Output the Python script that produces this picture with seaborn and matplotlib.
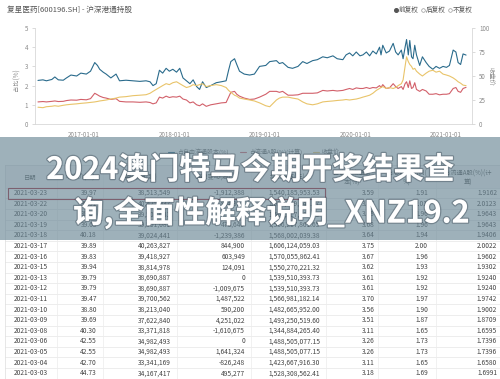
import matplotlib
matplotlib.use("Agg")
import numpy as np
import pandas as pd
import seaborn as sns
import matplotlib.pyplot as plt
import matplotlib.dates as mdates
import matplotlib.patheffects as pe
from matplotlib.patches import Rectangle

# ---------------- chart data ----------------
dates = [
    "2016-06-30", "2016-07-20", "2016-08-03", "2016-08-25", "2016-09-06", "2016-09-20", "2016-10-10", "2016-10-23", "2016-11-10", "2016-12-03",
    "2016-12-20", "2017-01-11", "2017-01-28", "2017-02-14", "2017-02-25", "2017-03-06", "2017-03-20", "2017-04-01", "2017-04-20", "2017-05-11",
    "2017-05-25", "2017-06-20", "2017-07-18", "2017-08-15", "2017-09-09", "2017-09-25", "2017-10-07", "2017-10-20", "2017-11-02", "2017-11-15",
    "2017-11-29", "2017-12-12", "2017-12-26", "2018-01-10", "2018-01-23", "2018-02-05", "2018-02-19", "2018-03-05", "2018-03-18", "2018-04-01",
    "2018-04-13", "2018-04-25", "2018-05-10", "2018-05-28", "2018-06-19", "2018-07-10", "2018-07-29", "2018-08-08", "2018-08-17", "2018-09-01",
    "2018-09-10", "2018-09-21", "2018-10-10", "2018-11-01", "2018-11-20", "2018-12-11", "2019-01-05", "2019-01-21", "2019-02-17", "2019-03-01",
    "2019-03-14", "2019-04-05", "2019-04-23", "2019-05-15", "2019-06-03", "2019-06-20", "2019-07-13", "2019-08-01", "2019-08-23", "2019-09-10",
    "2019-10-03", "2019-10-20", "2019-11-12", "2019-11-25", "2019-12-09", "2019-12-22", "2020-01-05", "2020-01-20", "2020-02-01", "2020-02-15",
    "2020-02-28", "2020-03-12", "2020-03-26", "2020-04-08", "2020-04-14", "2020-04-21", "2020-05-05", "2020-05-18", "2020-06-02", "2020-06-12",
    "2020-06-22", "2020-07-05", "2020-07-12", "2020-07-20", "2020-07-26", "2020-08-02", "2020-08-08", "2020-08-15", "2020-08-21", "2020-08-28",
    "2020-09-04", "2020-09-17", "2020-09-28", "2020-10-13", "2020-10-25", "2020-11-09", "2020-11-22", "2020-12-06", "2020-12-20", "2021-01-03",
    "2021-01-15", "2021-01-30", "2021-02-10", "2021-02-19", "2021-03-01", "2021-03-11", "2021-03-23",
]
free_float_pct = [
    2.27, 2.30, 2.25, 2.32, 2.45, 2.30, 2.28, 2.40, 2.55, 2.50,
    2.65, 2.60, 2.75, 3.20, 3.05, 2.85, 2.70, 2.60, 2.40, 2.60,
    2.25, 2.28, 2.25, 2.22, 2.25, 2.20, 2.00, 2.10, 2.80, 2.65,
    2.90, 2.75, 2.85, 2.70, 2.90, 2.40, 2.25, 2.10, 2.30, 1.95,
    1.80, 2.20, 1.90, 2.00, 2.15, 2.20, 2.25, 2.80, 3.25, 3.40,
    3.10, 2.75, 2.60, 2.55, 2.60, 3.00, 3.05, 3.25, 3.30, 3.15,
    3.20, 2.95, 2.90, 3.00, 3.25, 3.15, 3.30, 3.35, 3.50, 3.45,
    3.55, 3.40, 3.35, 3.60, 3.70, 3.55, 3.75, 3.55, 3.60, 3.75,
    3.55, 3.80, 3.65, 4.00, 3.60, 4.10, 3.70, 3.80, 4.20, 3.75,
    3.60, 3.85, 3.40, 4.00, 4.40, 3.60, 4.35, 3.50, 3.40, 4.10,
    3.60, 3.05, 3.50, 3.20, 3.00, 2.85, 3.00, 2.90, 3.00, 2.95,
    3.05, 3.85, 3.75, 3.20, 3.10, 3.65, 3.59,
]
a_share_pct = [
    1.15, 1.17, 1.15, 1.18, 1.20, 1.17, 1.18, 1.22, 1.25, 1.24,
    1.28, 1.26, 1.32, 1.60, 1.52, 1.45, 1.38, 1.35, 1.28, 1.32,
    1.18, 1.15, 1.15, 1.13, 1.15, 1.12, 1.05, 1.10, 1.40, 1.35,
    1.45, 1.38, 1.42, 1.40, 1.45, 1.30, 1.25, 1.10, 1.15, 1.00,
    0.95, 1.05, 0.92, 1.00, 1.05, 1.10, 1.12, 1.40, 1.65, 1.70,
    1.55, 1.45, 1.35, 1.28, 1.30, 1.40, 1.55, 1.70, 1.70, 1.65,
    1.70, 1.50, 1.50, 1.52, 1.60, 1.60, 1.60, 1.62, 1.75, 1.72,
    1.75, 1.72, 1.75, 1.80, 1.85, 1.80, 1.88, 1.85, 1.85, 1.90,
    1.85, 1.90, 1.88, 2.00, 1.90, 2.05, 1.85, 1.88, 2.10, 1.95,
    1.85, 1.95, 1.80, 2.10, 2.20, 1.90, 2.25, 1.85, 1.90, 2.15,
    1.80, 1.70, 1.80, 1.72, 1.55, 1.55, 1.58, 1.52, 1.55, 1.55,
    1.58, 1.85, 1.90, 1.70, 1.65, 1.85, 1.91,
]
close_price = [
    17.5, 17.0, 18.0, 18.5, 19.0, 18.5, 19.5, 20.0, 20.5, 21.0,
    21.5, 22.0, 22.5, 23.0, 23.5, 24.0, 24.5, 25.0, 26.0, 27.0,
    28.0, 28.5, 29.5, 30.0, 30.5, 32.0, 34.0, 36.0, 38.0, 40.0,
    42.0, 41.0, 43.0, 44.0, 42.0, 40.0, 38.0, 39.0, 41.0, 40.0,
    41.0, 42.0, 39.0, 40.0, 41.0, 40.0, 38.0, 35.0, 33.0, 30.0,
    29.0, 27.0, 26.0, 25.0, 24.0, 22.0, 19.0, 18.0, 25.0, 27.0,
    28.0, 28.0, 27.0, 26.0, 23.0, 21.0, 20.0, 21.0, 23.0, 23.5,
    24.0, 24.5, 25.0, 25.5, 25.0, 25.5, 26.0, 27.0, 28.0, 29.0,
    30.0, 32.0, 35.0, 37.0, 38.0, 39.0, 37.0, 38.0, 37.0, 38.0,
    40.0, 42.0, 46.0, 60.0, 70.0, 65.0, 62.0, 60.0, 57.0, 58.0,
    55.0, 52.0, 50.0, 53.0, 55.0, 56.0, 54.0, 55.0, 52.0, 51.0,
    50.0, 48.0, 46.0, 44.0, 42.5, 40.5, 39.97,
]
x_ticks = ["2017-01-01", "2018-01-01", "2019-01-01", "2020-01-01", "2021-01-01"]
left_ticks = [0, 1, 2, 3, 4, 5]
right_ticks = [0, 25, 50, 75, 100]

# ---------------- table data ----------------
tbl_headers = ["日期", "收盘价(元)", "持股数量(股)", "持股变动(股)", "持股市值(元)",
               "占自由流通股\n本(%)", "占总股本比例(\n%)", "占流通A股(%)(计\n算)"]
tbl_dates = ["2021-03-23", "2021-03-22", "2021-03-20", "2021-03-19", "2021-03-18", "2021-03-17",
             "2021-03-16", "2021-03-15", "2021-03-13", "2021-03-12", "2021-03-11", "2021-03-10",
             "2021-03-09", "2021-03-08", "2021-03-06", "2021-03-05", "2021-03-04", "2021-03-03"]
tbl_close = [39.97, 39.91, 39.65, 39.65, 40.18, 39.89, 39.83, 39.94, 39.79, 39.79, 39.47, 38.80,
             39.69, 40.30, 42.55, 42.55, 42.70, 44.73]
tbl_shares = [38513549, 40425937, 39501081, 39501081, 39024441, 40263827, 39418927, 38814978,
              38690887, 38690887, 39700562, 38213040, 37622840, 33371818, 34982493, 34982493,
              33341169, 34167417]
tbl_change = [-1912388, 924856, 0, 476640, -1239386, 844900, 603949, 124091, 0, -1009675,
              1487522, 590200, 4251022, -1610675, 0, 1641324, -826248, 495277]
tbl_value = [1540185953.53, 1613399145.67, 1566217861.65, 1566217861.65, 1568002039.38,
             1606124059.03, 1570055862.41, 1550270221.32, 1539510393.73, 1539510393.73,
             1566981182.14, 1482665952.00, 1493250519.60, 1344884265.40, 1488505077.15,
             1488505077.15, 1423667916.30, 1528308562.41]
tbl_free = [3.59, 3.77, 3.68, 3.68, 3.64, 3.75, 3.67, 3.62, 3.61, 3.61, 3.70, 3.56, 3.51, 3.11,
            3.26, 3.26, 3.11, 3.18]
tbl_ashare = [1.91, 2.01, 1.96, 1.96, 1.94, 2.00, 1.96, 1.93, 1.92, 1.92, 1.97, 1.90, 1.87, 1.65,
              1.73, 1.73, 1.65, 1.69]
tbl_calc = [1.9162, 2.0123, 1.9643, 1.9643, 1.9406, 2.0022, 1.9602, 1.9302, 1.9240, 1.9240,
            1.9742, 1.9002, 1.8709, 1.6595, 1.7396, 1.7396, 1.6580, 1.6991]

title_text = "复星医药[600196.SH] - 沪深港通持股"
legend_top = ["前复权", "后复权", "不复权"]
legend_series = ["占自由流通股本(%)", "占流通A股(%)(计算)", "收盘价"]
overlay_1 = "2024澳门特马今期开奖结果查"
overlay_2 = "询,全面性解释说明_XNZ19.2"

# ---------------- style ----------------
sns.set_theme(style="white")
plt.rcParams["font.family"] = ["Noto Sans CJK SC", "DejaVu Sans"]

BLUE = "#2a6b8c"
RED = "#d2606a"
YEL = "#e9c46a"
GRAY = "#8a8a8a"
TXT = "#444444"

W, H = 500, 379
fig = plt.figure(figsize=(5, 3.79), dpi=100)


def fx(x):
    return x / W


def fy(y):
    return 1 - y / H


# background axes in pixel coordinates (for table/overlay)
tax = fig.add_axes([0, 0, 1, 1])
tax.set_xlim(0, W)
tax.set_ylim(H, 0)
tax.axis("off")

# ---------------- chart ----------------
ax = fig.add_axes([fx(35), fy(124), fx(472) - fx(35), fy(28) - fy(124)])
ax.patch.set_alpha(0)
df = pd.DataFrame({
    "date": pd.to_datetime(dates),
    "free": free_float_pct,
    "ashare": a_share_pct,
    "close": close_price,
})
sns.lineplot(data=df, x="date", y="free", ax=ax, color=BLUE, lw=0.8)
sns.lineplot(data=df, x="date", y="ashare", ax=ax, color=RED, lw=0.8)
ax2 = ax.twinx()
sns.lineplot(data=df, x="date", y="close", ax=ax2, color=YEL, lw=0.8)

ax.set_xlim(pd.Timestamp("2016-06-18"), pd.Timestamp("2021-04-16"))
ax.set_ylim(0, 5)
ax2.set_ylim(0, 100)
ax.set_yticks(left_ticks)
ax2.set_yticks(right_ticks)
ax.set_xticks(pd.to_datetime(x_ticks))
ax.set_xticklabels(x_ticks)
for a in (ax, ax2):
    a.set_xlabel("")
    a.set_ylabel("")
    a.grid(False)
for s in ["top", "right"]:
    ax.spines[s].set_visible(False)
for s in ["top", "left", "bottom"]:
    ax2.spines[s].set_visible(False)
for s in ["left", "bottom"]:
    ax.spines[s].set_color("#d8d8d8")
    ax.spines[s].set_linewidth(0.6)
ax2.spines["right"].set_color("#d8d8d8")
ax2.spines["right"].set_linewidth(0.6)
ax.tick_params(axis="y", labelsize=4.5, labelcolor=GRAY, color="#cccccc", length=2, width=0.5, pad=3, left=True)
ax2.tick_params(axis="y", labelsize=4.5, labelcolor=GRAY, color="#cccccc", length=2, width=0.5, pad=3, right=True)
ax.tick_params(axis="x", labelsize=4.5, labelcolor=GRAY, length=0, pad=5)

fig.text(fx(17), fy(80), "占比(%)", rotation=90, fontsize=4.5, color=GRAY, ha="center", va="center")
fig.text(fx(491), fy(76), "收盘价", rotation=270, fontsize=4.5, color=GRAY, ha="center", va="center")
fig.text(fx(7), fy(10), title_text, fontsize=5.5, color="#555555", ha="left", va="center")

# top-right legend
leg_x = [396, 423, 450]
for i, (lx, lab) in enumerate(zip(leg_x, legend_top)):
    if i == 0:
        tax.plot([lx], [10], marker="o", ms=2.6, color="#555555", mec="#555555")
    else:
        tax.plot([lx], [10], marker="o", ms=2.6, mfc="white", mec="#999999", mew=0.5)
    tax.text(lx + 3, 10, lab, fontsize=4.8, color="#555555", ha="left", va="center")

# ---------------- table ----------------
FS = 4.8
row_h = 10.6
y0 = 193
col_sep = [57, 103, 177, 251, 326, 378, 436]
header_x = [30, 80, 140, 214, 288, 352, 407, 468]

# series legend of the table chart
sx = [168, 240, 313]
scol = [BLUE, RED, YEL]
for x, c, lab in zip(sx, scol, legend_series):
    tax.plot([x, x + 6], [152, 152], color=c, lw=0.8)
    tax.text(x + 9, 152, lab, fontsize=4.3, color="#666666", ha="left", va="center")

tax.add_patch(Rectangle((5, 165), 495, 23, facecolor="#f6f6f6", edgecolor="none", zorder=0.5))
for hx, h in zip(header_x, tbl_headers):
    tax.text(hx, 178, h, fontsize=4.5, color="#555555", ha="center", va="center", linespacing=1.3)

tax.plot([5, 500], [165, 165], color="#dddddd", lw=0.5)
for k in range(len(tbl_dates) + 1):
    yb = y0 - row_h / 2 + k * row_h
    tax.plot([5, 500], [yb, yb], color="#e6e6e6", lw=0.5)
tax.plot([5, 5], [165, 379], color="#dddddd", lw=0.5)
for cx in col_sep:
    tax.plot([cx, cx], [165, 379], color="#ececec", lw=0.5)

for i, d in enumerate(tbl_dates):
    y = y0 + i * row_h
    tax.text(31, y, d, fontsize=FS, color=TXT, ha="center", va="center")
    tax.text(97, y, f"{tbl_close[i]:.2f}", fontsize=FS, color=TXT, ha="right", va="center")
    tax.text(171, y, f"{tbl_shares[i]:,}", fontsize=FS, color=TXT, ha="right", va="center")
    tax.text(245, y, f"{tbl_change[i]:,}", fontsize=FS, color=TXT, ha="right", va="center")
    tax.text(320, y, f"{tbl_value[i]:,.2f}", fontsize=FS, color=TXT, ha="right", va="center")
    tax.text(375, y, f"{tbl_free[i]:.2f}", fontsize=FS, color=TXT, ha="right", va="center")
    tax.text(428, y, f"{tbl_ashare[i]:.2f}", fontsize=FS, color=TXT, ha="right", va="center")
    tax.text(497, y, f"{tbl_calc[i]:.4f}", fontsize=FS, color=TXT, ha="right", va="center")

tax.add_patch(Rectangle((8, 188), 317, 11, fill=False, edgecolor="#a01828", lw=0.8, zorder=3))

# ---------------- overlay band and big text ----------------
tax.add_patch(Rectangle((0, 137), 500, 103, facecolor="#6a8796", alpha=0.65, edgecolor="none", zorder=10))
shadow = [pe.withStroke(linewidth=1.8, foreground=(0.15, 0.2, 0.25, 0.35))]
tax.text(250, 170, overlay_1, fontsize=22, fontweight="bold", color="white", ha="center", va="center",
         zorder=20, path_effects=shadow)
tax.text(271, 213, overlay_2, fontsize=22, fontweight="bold", color="white", ha="center", va="center",
         zorder=20, path_effects=shadow)

fig.savefig("out.png", dpi=100)
